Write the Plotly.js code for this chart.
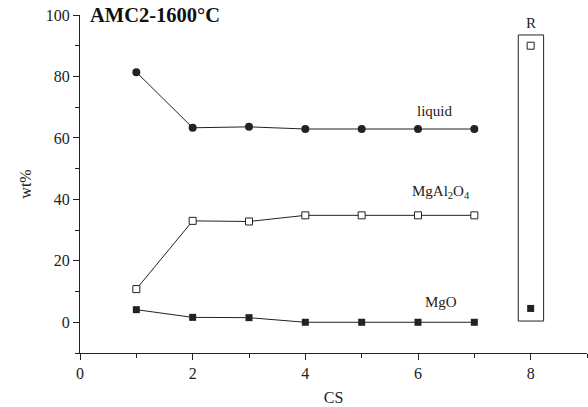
<!DOCTYPE html>
<html>
<head>
<meta charset="utf-8">
<script src="https://cdn.plot.ly/plotly-3.0.1.min.js"></script>
<style>html,body{margin:0;padding:0;background:#fff;}#chart{width:588px;height:407px;}</style>
</head>
<body>
<div id="chart"></div>
<script>
const cs = [1, 2, 3, 4, 5, 6, 7];
const liquid = [81.4, 63.3, 63.6, 62.9, 62.9, 62.9, 62.9];
const spinel = [10.8, 33.0, 32.8, 34.8, 34.8, 34.8, 34.8];
const mgo = [4.1, 1.6, 1.5, 0, 0, 0, 0];
const rX = [8];
const rSpinel = [90.0];
const rMgO = [4.5];
const xTicks = [0, 2, 4, 6, 8];
const yTicks = [0, 20, 40, 60, 80, 100];

const serif = 'Liberation Serif';
const ink = '#222';
const lineStyle = {color: ink, width: 1};

const traces = [
  {x: cs, y: liquid, mode: 'lines+markers', line: lineStyle,
   marker: {symbol: 'circle', size: 8, color: ink, line: {width: 0}}},
  {x: cs, y: spinel, mode: 'lines+markers', line: lineStyle,
   marker: {symbol: 'square', size: 7, color: '#fff', line: {color: ink, width: 1}}},
  {x: cs, y: mgo, mode: 'lines+markers', line: lineStyle,
   marker: {symbol: 'square', size: 7, color: ink, line: {width: 0}}},
  {x: rX, y: rSpinel, mode: 'markers',
   marker: {symbol: 'square', size: 7, color: '#fff', line: {color: ink, width: 1}}},
  {x: rX, y: rMgO, mode: 'markers',
   marker: {symbol: 'square', size: 7, color: ink, line: {width: 0}}}
];

function axisCommon() {
  return {
    showgrid: false, zeroline: false, showline: true, linecolor: ink, linewidth: 1,
    ticks: 'outside', ticklen: 6, tickcolor: ink, tickwidth: 1,
    tickfont: {family: serif, size: 16, color: ink}
  };
}

const layout = {
  width: 588, height: 407,
  margin: {l: 80, r: 1, t: 15, b: 54},
  paper_bgcolor: '#fff', plot_bgcolor: '#fff',
  showlegend: false,
  font: {family: serif, color: ink, size: 16},
  xaxis: Object.assign(axisCommon(), {
    range: [0, 9], tickmode: 'array', tickvals: xTicks, ticktext: xTicks.map(String),
    minor: {ticks: 'outside', ticklen: 4, dtick: 1, tickcolor: ink, tickwidth: 1},
    title: {text: 'CS', font: {family: serif, size: 16, color: ink}, standoff: 10}
  }),
  yaxis: Object.assign(axisCommon(), {
    range: [-10, 100], tickmode: 'array', tickvals: yTicks, ticktext: yTicks.map(String),
    minor: {ticks: 'outside', ticklen: 4, dtick: 10, tickcolor: ink, tickwidth: 1},
    title: {text: 'wt%', font: {family: serif, size: 16, color: ink}, standoff: 10}
  }),
  shapes: [
    {type: 'rect', xref: 'x', yref: 'y', x0: rX[0] - 0.22, x1: rX[0] + 0.23,
     y0: 0.4, y1: 93.5, line: {color: ink, width: 1}, fillcolor: 'rgba(0,0,0,0)'}
  ],
  annotations: [
    {xref: 'paper', yref: 'paper', x: 0.015, y: 1.0, xanchor: 'left', yanchor: 'middle',
     text: '<b>AMC2-1600°C</b>', showarrow: false, font: {family: serif, size: 20.5, color: '#111'}},
    {xref: 'x', yref: 'y', x: 6.3, y: liquid[6] + 6, text: 'liquid', showarrow: false,
     font: {family: serif, size: 15, color: ink}},
    {xref: 'x', yref: 'y', x: 6.4, y: spinel[6] + 7.5, text: 'MgAl<sub>2</sub>O<sub>4</sub>', showarrow: false,
     font: {family: serif, size: 15, color: ink}},
    {xref: 'x', yref: 'y', x: 6.4, y: mgo[6] + 6.5, text: 'MgO', showarrow: false,
     font: {family: serif, size: 15, color: ink}},
    {xref: 'x', yref: 'y', x: rX[0], y: 97.5, text: 'R', showarrow: false,
     font: {family: serif, size: 15, color: ink}}
  ]
};

Plotly.newPlot('chart', traces, layout, {displayModeBar: false, staticPlot: true});
</script>
</body>
</html>
